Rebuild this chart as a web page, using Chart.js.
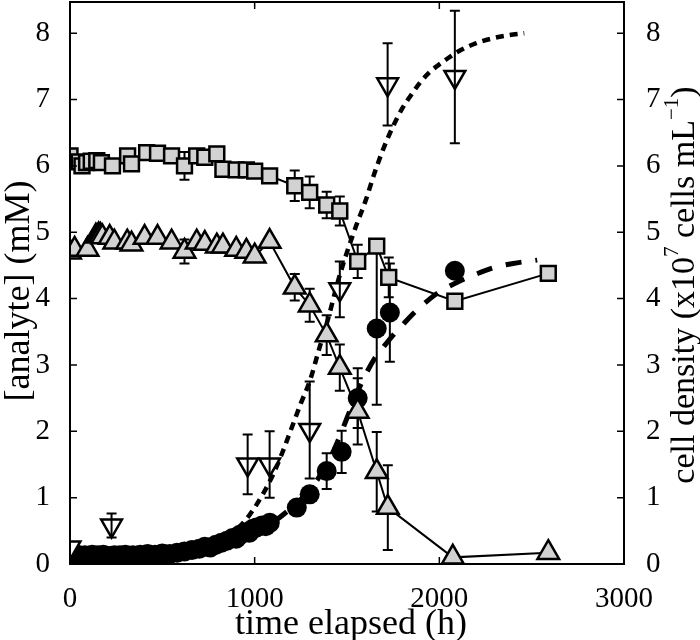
<!DOCTYPE html>
<html><head><meta charset="utf-8">
<script src="https://cdn.jsdelivr.net/npm/chart.js@4.4.1/dist/chart.umd.min.js"></script>
<style>html,body{margin:0;padding:0;background:#fff}</style>
</head><body>
<canvas id="c" width="700" height="640"></canvas>
<script>
// ---- data ----
const xTickValues = [0, 1000, 2000, 3000];
const yTickValues = [0, 1, 2, 3, 4, 5, 6, 7, 8];
const xTitle = 'time elapsed (h)';
const yTitle = '[analyte] (mM)';
const y2TitleParts = [['cell density (x10', 0], ['7', 1], [' cells mL', 0], ['\u22121', 1], [')', 0]];

// squares (grey, connected)
const sqTime = [0, 50, 65, 90, 115, 145, 170, 230, 312, 333, 415, 474, 550, 620, 686, 730, 795, 828, 900, 955, 1000, 1081, 1217, 1298, 1390, 1461, 1558, 1661, 1726, 2084, 2590];
const sqVal  = [6.15, 6.06, 6.0, 6.05, 6.07, 6.08, 6.05, 6.0, 6.15, 6.03, 6.2, 6.19, 6.15, 6.0, 6.15, 6.13, 6.18, 5.95, 5.94, 5.94, 5.92, 5.85, 5.7, 5.6, 5.41, 5.32, 4.56, 4.79, 4.32, 3.96, 4.38];
const sqErr  = [0, 0, 0, 0, 0, 0, 0, 0, 0, 0, 0, 0, 0, 0.21, 0, 0, 0, 0, 0, 0, 0, 0, 0.23, 0.24, 0.2, 0.22, 0.25, 0, 0.3, 0, 0];

// up triangles (grey, connected)
const triTime = [0, 25, 95, 140, 155, 165, 175, 215, 240, 310, 333, 404, 474, 550, 620, 686, 730, 795, 828, 900, 955, 1000, 1081, 1217, 1298, 1390, 1461, 1558, 1661, 1721, 2073, 2590];
const triVal  = [4.7, 4.74, 4.74, 4.94, 4.96, 4.95, 4.93, 4.92, 4.85, 4.85, 4.82, 4.92, 4.92, 4.85, 4.71, 4.85, 4.83, 4.79, 4.79, 4.74, 4.71, 4.64, 4.86, 4.17, 3.9, 3.45, 2.96, 2.3, 1.39, 0.85, 0.1, 0.17];
const triErr  = [0, 0, 0, 0, 0, 0, 0, 0, 0, 0, 0, 0, 0, 0, 0.18, 0, 0, 0, 0, 0, 0, 0, 0, 0.2, 0.25, 0.3, 0.35, 0.5, 0.6, 0.64, 0, 0];

// down triangles (open, cell density)
const dtTime = [0, 225, 962, 1081, 1298, 1461, 1720, 2084];
const dtVal  = [0.25, 0.58, 1.5, 1.5, 2.02, 4.14, 7.23, 7.34];
const dtErr  = [0, 0.18, 0.45, 0.5, 0.73, 0.42, 0.62, 1.0];

// filled circles
const cTime = [0, 20, 40, 60, 80, 100, 120, 150, 180, 210, 240, 270, 300, 340, 380, 420, 460, 500, 540, 580, 620, 660, 700, 730, 760, 790, 820, 850, 880, 900, 920, 950, 970, 990, 1010, 1040, 1060, 1082, 1228, 1298, 1390, 1471, 1558, 1661, 1732, 2084];
const cVal  = [0.15, 0.12, 0.14, 0.12, 0.13, 0.12, 0.14, 0.13, 0.14, 0.12, 0.13, 0.13, 0.14, 0.13, 0.14, 0.15, 0.14, 0.16, 0.15, 0.17, 0.19, 0.21, 0.23, 0.26, 0.25, 0.29, 0.32, 0.35, 0.39, 0.38, 0.44, 0.48, 0.47, 0.53, 0.55, 0.58, 0.57, 0.62, 0.85, 1.05, 1.4, 1.69, 2.5, 3.55, 3.79, 4.42];
const cErr  = [0, 0, 0, 0, 0, 0, 0, 0, 0, 0, 0, 0, 0, 0, 0, 0, 0, 0, 0, 0, 0, 0, 0, 0, 0, 0, 0, 0, 0, 0, 0, 0, 0, 0, 0, 0, 0, 0, 0, 0.1, 0.27, 0.32, 0.45, 1.15, 0.74, 0];

// dashed fit curve
const dashTime = [0, 200, 400, 600, 700, 800, 900, 1000, 1100, 1200, 1300, 1400, 1450, 1500, 1550, 1600, 1650, 1700, 1750, 1800, 1850, 1900, 1950, 2000, 2100, 2200, 2300, 2400, 2530];
const dashVal  = [0.1, 0.11, 0.13, 0.18, 0.22, 0.28, 0.37, 0.48, 0.63, 0.85, 1.12, 1.55, 1.85, 2.2, 2.55, 2.85, 3.1, 3.28, 3.45, 3.6, 3.75, 3.88, 4.0, 4.1, 4.25, 4.37, 4.47, 4.53, 4.58];

// dotted fit curve
const dotTime = [850, 900, 950, 1000, 1050, 1100, 1150, 1200, 1250, 1300, 1350, 1400, 1450, 1500, 1550, 1600, 1650, 1700, 1750, 1800, 1850, 1900, 1950, 2000, 2050, 2100, 2200, 2300, 2400, 2460];
const dotVal  = [0.42, 0.52, 0.66, 0.85, 1.08, 1.35, 1.68, 2.05, 2.42, 2.77, 3.25, 3.72, 4.25, 4.7, 5.1, 5.47, 5.9, 6.28, 6.6, 6.87, 7.08, 7.27, 7.42, 7.53, 7.63, 7.72, 7.85, 7.93, 7.98, 8.0];

const pts = (t, v) => t.map((x, i) => ({x: x, y: v[i]}));

const SERIF = "'Liberation Serif', 'Times New Roman', 'DejaVu Serif', serif";
Chart.defaults.font.family = SERIF;
Chart.defaults.color = '#000';

const framePlugin = {
  id: 'frame',
  afterDraw(chart) {
    const {ctx, chartArea: a, scales} = chart;
    ctx.save();
    ctx.strokeStyle = '#000';
    ctx.lineWidth = 2;
    ctx.strokeRect(a.left, a.top, a.right - a.left, a.bottom - a.top);
    ctx.lineWidth = 1.5;
    const L = 7;
    xTickValues.forEach(v => {
      const px = scales.x.getPixelForValue(v);
      ctx.beginPath();
      ctx.moveTo(px, a.bottom); ctx.lineTo(px, a.bottom - L);
      ctx.moveTo(px, a.top); ctx.lineTo(px, a.top + L);
      ctx.stroke();
    });
    yTickValues.forEach(v => {
      const py = scales.y.getPixelForValue(v);
      ctx.beginPath();
      ctx.moveTo(a.left, py); ctx.lineTo(a.left + L, py);
      ctx.moveTo(a.right, py); ctx.lineTo(a.right - L, py);
      ctx.stroke();
    });
    ctx.fillStyle = '#000';
    ctx.textBaseline = 'alphabetic';
    // x title
    ctx.font = '36px ' + SERIF;
    ctx.textAlign = 'center';
    ctx.fillText(xTitle, (a.left + a.right) / 2 + 4, 634);
    // left title
    ctx.save();
    ctx.translate(29, (a.top + a.bottom) / 2 + 8);
    ctx.rotate(-Math.PI / 2);
    ctx.fillText(yTitle, 0, 0);
    ctx.restore();
    // right axis title with superscripts, reading bottom-to-top
    const big = 34, small = 21;
    ctx.textAlign = 'left';
    let total = 0;
    y2TitleParts.forEach(([t, sup]) => { ctx.font = (sup ? small : big) + 'px ' + SERIF; total += ctx.measureText(t).width; });
    ctx.translate(694, (a.top + a.bottom) / 2 + 2);
    ctx.rotate(-Math.PI / 2);
    let x = -total / 2;
    y2TitleParts.forEach(([t, sup]) => {
      ctx.font = (sup ? small : big) + 'px ' + SERIF;
      ctx.fillText(t, x, sup ? -16 : 0);
      x += ctx.measureText(t).width;
    });
    ctx.restore();
  }
};

function drawErr(chart, index) {
  const ds = chart.data.datasets[index];
  if (!ds.errs) return;
  const meta = chart.getDatasetMeta(index);
  const xs = chart.scales[meta.xAxisID], ys = chart.scales[meta.yAxisID];
  const ctx = chart.ctx;
  ctx.save();
  ctx.strokeStyle = '#000';
  ctx.lineWidth = 2;
  ds.data.forEach((p, i) => {
    const e = ds.errs[i];
    if (!e) return;
    const x = xs.getPixelForValue(p.x);
    const y1 = ys.getPixelForValue(p.y + e);
    const y2 = ys.getPixelForValue(p.y - e);
    ctx.beginPath();
    ctx.moveTo(x, y1); ctx.lineTo(x, y2);
    ctx.moveTo(x - 5, y1); ctx.lineTo(x + 5, y1);
    ctx.moveTo(x - 5, y2); ctx.lineTo(x + 5, y2);
    ctx.stroke();
  });
  ctx.restore();
}
const errPlugin = {
  id: 'errbars',
  beforeDatasetDraw(chart, args) { if (!chart.data.datasets[args.index].errOnTop) drawErr(chart, args.index); },
  afterDatasetDraw(chart, args) { if (chart.data.datasets[args.index].errOnTop) drawErr(chart, args.index); }
};

new Chart(document.getElementById('c'), {
  type: 'line',
  data: {
    datasets: [
      { label: 'down', data: pts(dtTime, dtVal), errs: dtErr, errOnTop: true, yAxisID: 'y2',
        showLine: false, pointStyle: 'triangle', pointRotation: 180, pointRadius: 12,
        pointBackgroundColor: '#fff', pointBorderColor: '#000', pointBorderWidth: 2.5 },
      { label: 'tri', data: pts(triTime, triVal), errs: triErr, yAxisID: 'y',
        borderColor: '#000', borderWidth: 2, tension: 0,
        pointStyle: 'triangle', pointRadius: 12.5,
        pointBackgroundColor: '#d2d2d2', pointBorderColor: '#000', pointBorderWidth: 2.5 },
      { label: 'sq', data: pts(sqTime, sqVal), errs: sqErr, yAxisID: 'y',
        borderColor: '#000', borderWidth: 2, tension: 0,
        pointStyle: 'rect', pointRadius: 10.5,
        pointBackgroundColor: '#d2d2d2', pointBorderColor: '#000', pointBorderWidth: 2.5 },
      { label: 'circ', data: pts(cTime, cVal), errs: cErr, yAxisID: 'y',
        showLine: false, pointStyle: 'circle', pointRadius: 10,
        pointBackgroundColor: '#000', pointBorderColor: '#000', pointBorderWidth: 0 },
      { label: 'dash', data: pts(dashTime, dashVal), yAxisID: 'y',
        borderColor: '#000', borderWidth: 5, borderDash: [16, 14], pointRadius: 0,
        cubicInterpolationMode: 'monotone', borderCapStyle: 'butt' },
      { label: 'dot', data: pts(dotTime, dotVal), yAxisID: 'y2',
        borderColor: '#000', borderWidth: 4.5, borderDash: [8, 6], pointRadius: 0,
        cubicInterpolationMode: 'monotone', borderCapStyle: 'butt' }
    ]
  },
  options: {
    responsive: false,
    animation: false,
    events: [],
    layout: { autoPadding: false, padding: { top: 2, right: 0, bottom: 0, left: 0 } },
    plugins: { legend: { display: false }, tooltip: { enabled: false } },
    scales: {
      x: {
        type: 'linear', min: 0, max: 3000,
        afterBuildTicks(s) { s.ticks = xTickValues.map(v => ({value: v})); },
        ticks: { font: { size: 29 }, color: '#000', padding: 10, maxRotation: 0, autoSkip: false,
                 callback: v => String(v) },
        grid: { display: false }, border: { display: false },
        title: { display: false },
        afterFit(s) { s.height = 76; s.paddingLeft = 0; s.paddingRight = 0; }
      },
      y: {
        type: 'linear', position: 'left', min: 0, max: 8.47,
        afterBuildTicks(s) { s.ticks = yTickValues.map(v => ({value: v})); },
        ticks: { font: { size: 29 }, color: '#000', padding: 12, callback: v => String(v) },
        grid: { display: false }, border: { display: false },
        title: { display: false },
        afterFit(s) { s.width = 70; s.paddingTop = 0; s.paddingBottom = 0; }
      },
      y2: {
        type: 'linear', position: 'right', min: 0, max: 8.47,
        afterBuildTicks(s) { s.ticks = yTickValues.map(v => ({value: v})); },
        ticks: { font: { size: 29 }, color: '#000', padding: 14, callback: v => String(v) },
        grid: { display: false }, border: { display: false },
        title: { display: false },
        afterFit(s) { s.width = 76; s.paddingTop = 0; s.paddingBottom = 0; }
      }
    }
  },
  plugins: [errPlugin, framePlugin]
});
</script>
</body></html>
